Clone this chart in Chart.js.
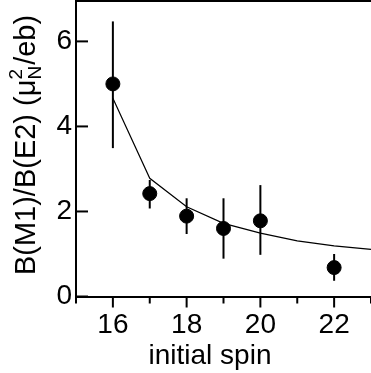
<!DOCTYPE html>
<html lang="en">
<head>
<meta charset="UTF-8">
<title>B(M1)/B(E2) vs initial spin</title>
<script src="https://cdn.jsdelivr.net/npm/chart.js"></script>
<style>
  html, body { margin: 0; padding: 0; background: #fff; overflow: hidden; }
  #wrap { width: 371px; height: 373px; position: relative; }
  #chart { display: block; }
</style>
</head>
<body>
<div id="wrap"><canvas id="chart"></canvas></div>
<script>
// measured points with error bars
const spins = [16, 17, 18, 19, 20, 22];
const ratio = [5.0, 2.42, 1.89, 1.6, 1.78, 0.68];
const errLow = [3.49, 2.07, 1.47, 0.89, 0.98, 0.37];
const errHigh = [6.47, 2.74, 2.31, 2.31, 2.62, 1.0];

// calculated curve
const fitSpins = [16, 17, 18, 19, 20, 21, 22, 23];
const fitRatio = [4.66, 2.78, 2.11, 1.72, 1.49, 1.31, 1.19, 1.11];

const xTicks = [16, 18, 20, 22];
const yTicks = [0, 2, 4, 6];

const FONT = '"Liberation Sans", Arial, sans-serif';

const extras = {
    id: 'extras',
    beforeDatasetsDraw(chart) {
        const ctx = chart.ctx, x = chart.scales.x, y = chart.scales.y;
        ctx.save();
        ctx.strokeStyle = '#000';
        ctx.lineWidth = 2;
        spins.forEach((s, i) => {
            const px = x.getPixelForValue(s);
            ctx.beginPath();
            ctx.moveTo(px, y.getPixelForValue(errLow[i]));
            ctx.lineTo(px, y.getPixelForValue(errHigh[i]));
            ctx.stroke();
        });
        ctx.restore();
    },
    afterDraw(chart) {
        const ctx = chart.ctx, x = chart.scales.x, y = chart.scales.y;
        const area = chart.chartArea;
        ctx.save();
        ctx.strokeStyle = '#000';
        ctx.lineWidth = 2;

        // top frame line
        ctx.beginPath();
        ctx.moveTo(area.left, area.top);
        ctx.lineTo(area.right, area.top);
        ctx.stroke();

        // x ticks point outward, long on labelled values
        x.ticks.forEach(t => {
            const px = x.getPixelForValue(t.value);
            const len = xTicks.includes(t.value) ? 11 : 7;
            ctx.beginPath();
            ctx.moveTo(px, area.bottom);
            ctx.lineTo(px, area.bottom + len);
            ctx.stroke();
        });

        // y ticks point inward
        y.ticks.forEach(t => {
            const py = y.getPixelForValue(t.value);
            ctx.beginPath();
            ctx.moveTo(area.left, py);
            ctx.lineTo(area.left + 12, py);
            ctx.stroke();
        });

        // axis titles
        ctx.fillStyle = '#000';
        ctx.textBaseline = 'alphabetic';
        ctx.textAlign = 'center';
        ctx.font = '28px ' + FONT;
        ctx.fillText('initial spin', 210, 364);

        const big = '29px ' + FONT, small = '19px ' + FONT;
        const p1 = 'B(M1)/B(E2) (\u03bc', p3 = '/eb)';
        ctx.font = big;
        const w1 = ctx.measureText(p1).width, w3 = ctx.measureText(p3).width;
        ctx.font = small;
        const wN = Math.max(ctx.measureText('N').width, ctx.measureText('2').width);
        const total = w1 + wN + 1 + w3;
        ctx.translate(35, 145);
        ctx.rotate(-Math.PI / 2);
        ctx.textAlign = 'left';
        let x0 = -total / 2;
        ctx.font = big;
        ctx.fillText(p1, x0, 0);
        ctx.font = small;
        ctx.fillText('N', x0 + w1, 6);
        ctx.fillText('2', x0 + w1, -13);
        ctx.font = big;
        ctx.fillText(p3, x0 + w1 + wN + 1, 0);
        ctx.restore();
    }
};

new Chart(document.getElementById('chart'), {
    type: 'scatter',
    data: {
        datasets: [
            {
                type: 'line',
                data: fitSpins.map((s, i) => ({ x: s, y: fitRatio[i] })),
                borderColor: '#000',
                borderWidth: 1.2,
                pointRadius: 0,
                tension: 0,
                fill: false
            },
            {
                data: spins.map((s, i) => ({ x: s, y: ratio[i] })),
                backgroundColor: '#000',
                borderColor: '#000',
                pointRadius: 7,
                pointHoverRadius: 7
            }
        ]
    },
    options: {
        responsive: true,
        maintainAspectRatio: false,
        animation: false,
        events: [],
        layout: { autoPadding: false, padding: { top: 1, right: 0, bottom: 0, left: 0 } },
        plugins: {
            legend: { display: false },
            tooltip: { enabled: false }
        },
        scales: {
            x: {
                type: 'linear',
                min: 15,
                max: 23,
                grid: { display: false, drawTicks: false },
                border: { display: true, color: '#000', width: 2 },
                ticks: {
                    stepSize: 1,
                    autoSkip: false,
                    maxRotation: 0,
                    padding: 12,
                    color: '#000',
                    font: { family: FONT, size: 28 },
                    callback: v => xTicks.includes(v) ? String(v) : ''
                },
                afterFit: s => { s.height = 76.5; s.paddingLeft = 0; s.paddingRight = 0; }
            },
            y: {
                type: 'linear',
                min: 0,
                max: 6.95,
                grid: { display: false, drawTicks: false },
                border: { display: true, color: '#000', width: 2 },
                ticks: {
                    stepSize: 2,
                    includeBounds: false,
                    padding: 4,
                    color: '#000',
                    font: { family: FONT, size: 28 },
                    callback: v => yTicks.includes(v) ? String(v) : ''
                },
                afterFit: s => { s.width = 76; s.paddingTop = 0; s.paddingBottom = 0; }
            }
        }
    },
    plugins: [extras]
});
</script>
</body>
</html>
